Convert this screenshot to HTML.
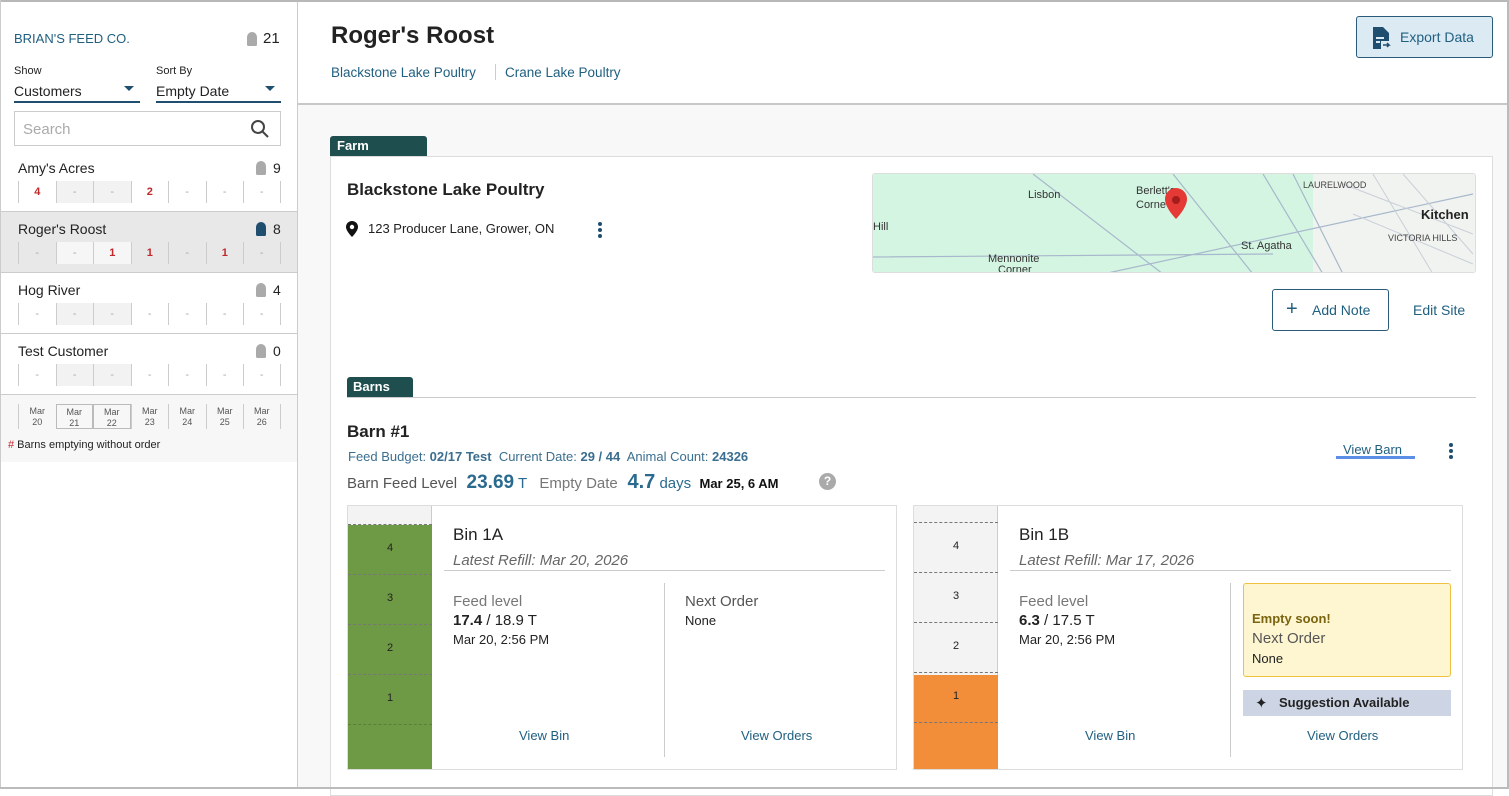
<!DOCTYPE html>
<html><head><style>
*{box-sizing:border-box;margin:0;padding:0}
body{width:1509px;height:789px;position:relative;overflow:hidden;font-family:"Liberation Sans",sans-serif;background:#fff;color:#222}
.a{position:absolute}
.teal{color:#1f5f80}
.cellrow{position:absolute;left:18px;height:22px;width:263px;display:flex}
.cellrow div{width:37.5px;border-left:1px solid #ccc;text-align:center;font-size:11px;line-height:22px;color:#aaa}
.cellrow div:last-child{border-right:1px solid #ccc}
.cellrow .r{color:#c0282b;font-weight:bold}
.sh{background:#f2f2f2}
.bin{position:absolute;border:1px solid #ddd;background:#fff;width:550px;height:265px}
.gauge{position:absolute;left:0;top:0;width:84px;height:263px;border-right:1px solid #ccc}
.seg{position:absolute;left:0;width:84px;font-size:11px;text-align:center;border-top:1px dashed #777}
.mi{position:absolute;width:12px;height:16px;background:#aaa;border-radius:6px 6px 2px 2px}
</style></head><body>
<!-- sidebar -->
<div class="a" style="left:297px;top:0;width:1px;height:789px;background:#ccc"></div>
<div class="a teal" style="left:14px;top:31px;font-size:13px">BRIAN'S FEED CO.</div>
<div class="mi" style="left:247px;top:32px;width:10px;height:14px"></div>
<div class="a" style="left:263px;top:30px;font-size:15px">21</div>
<div class="a" style="left:14px;top:65px;font-size:11px">Show</div>
<div class="a" style="left:156px;top:65px;font-size:11px">Sort By</div>
<div class="a" style="left:14px;top:83px;width:126px;font-size:14px;border-bottom:2px solid #1f4e6f;height:20px">Customers<span style="position:absolute;right:6px;top:3px;border:5px solid transparent;border-top-color:#1f4e6f"></span></div>
<div class="a" style="left:156px;top:83px;width:125px;font-size:14px;border-bottom:2px solid #1f4e6f;height:20px">Empty Date<span style="position:absolute;right:6px;top:3px;border:5px solid transparent;border-top-color:#1f4e6f"></span></div>
<div class="a" style="left:14px;top:111px;width:267px;height:35px;border:1px solid #ccc;font-size:15px;color:#aaa;padding:9px 8px">Search
<svg style="position:absolute;right:10px;top:7px" width="20" height="20"><circle cx="8" cy="8" r="6" stroke="#444" stroke-width="2" fill="none"/><line x1="12.5" y1="12.5" x2="18" y2="18" stroke="#444" stroke-width="2"/></svg></div>

<div class="a" style="left:1px;top:211px;width:296px;height:62px;background:#e8e8e8"></div>
<div class="a" style="left:1px;top:211px;width:296px;height:1px;background:#ccc"></div>
<div class="a" style="left:1px;top:272px;width:296px;height:1px;background:#ccc"></div>
<div class="a" style="left:1px;top:333px;width:296px;height:1px;background:#ccc"></div>
<div class="a" style="left:1px;top:394px;width:296px;height:68px;background:#f7f7f7;border-top:1px solid #ccc"></div>

<div class="a" style="left:18px;top:160px;font-size:14px">Amy's Acres</div><div class="mi" style="left:256px;top:161px;width:10px;height:14px"></div><div class="a" style="left:273px;top:160px;font-size:14px">9</div>
<div class="cellrow" style="top:181px"><div class="r">4</div><div class="sh">-</div><div class="sh">-</div><div class="r">2</div><div>-</div><div>-</div><div>-</div></div>
<div class="a" style="left:18px;top:221px;font-size:14px">Roger's Roost</div><div class="mi" style="left:256px;top:222px;width:10px;height:14px;background:#1f4e6f"></div><div class="a" style="left:273px;top:221px;font-size:14px">8</div>
<div class="cellrow" style="top:242px"><div>-</div><div style="background:#f6f6f6">-</div><div class="r" style="background:#f6f6f6">1</div><div class="r">1</div><div>-</div><div class="r">1</div><div>-</div></div>
<div class="a" style="left:18px;top:282px;font-size:14px">Hog River</div><div class="mi" style="left:256px;top:283px;width:10px;height:14px"></div><div class="a" style="left:273px;top:282px;font-size:14px">4</div>
<div class="cellrow" style="top:303px"><div>-</div><div class="sh">-</div><div class="sh">-</div><div>-</div><div>-</div><div>-</div><div>-</div></div>
<div class="a" style="left:18px;top:343px;font-size:14px">Test Customer</div><div class="mi" style="left:256px;top:344px;width:10px;height:14px"></div><div class="a" style="left:273px;top:343px;font-size:14px">0</div>
<div class="cellrow" style="top:364px"><div>-</div><div class="sh">-</div><div class="sh">-</div><div>-</div><div>-</div><div>-</div><div>-</div></div>
<div class="cellrow" style="top:404px;height:25px"><div style="font-size:9px;line-height:11px;color:#555;padding-top:2px">Mar<br>20</div><div style="font-size:9px;line-height:11px;color:#555;padding-top:2px;border:1px solid #bbb">Mar<br>21</div><div style="font-size:9px;line-height:11px;color:#555;padding-top:2px;border:1px solid #bbb">Mar<br>22</div><div style="font-size:9px;line-height:11px;color:#555;padding-top:2px">Mar<br>23</div><div style="font-size:9px;line-height:11px;color:#555;padding-top:2px">Mar<br>24</div><div style="font-size:9px;line-height:11px;color:#555;padding-top:2px">Mar<br>25</div><div style="font-size:9px;line-height:11px;color:#555;padding-top:2px">Mar<br>26</div></div>
<div class="a" style="left:8px;top:439px;font-size:11px"><span style="color:#c0282b">#</span> Barns emptying without order</div>

<!-- header -->
<div class="a" style="left:298px;top:103px;width:1209px;height:2px;background:#c8c8c8"></div>
<div class="a" style="left:298px;top:105px;width:1209px;height:682px;background:#f8f8f8"></div>
<div class="a" style="left:331px;top:22px;font-size:24px;font-weight:bold">Roger's Roost</div>
<div class="a teal" style="left:331px;top:65px;font-size:13.5px">Blackstone Lake Poultry</div>
<div class="a" style="left:495px;top:64px;width:1px;height:16px;background:#ccc"></div>
<div class="a teal" style="left:505px;top:65px;font-size:13.5px">Crane Lake Poultry</div>
<div class="a" style="left:1356px;top:16px;width:137px;height:42px;background:#dceaf3;border:1px solid #2a5c7a;border-radius:3px"></div>
<svg class="a" style="left:1372px;top:26px" width="20" height="24"><path d="M1 1h10l6 6v8H9v8H1z" fill="#1f4e6f"/><rect x="4" y="11" width="8" height="2" fill="#dceaf3"/><rect x="4" y="15" width="4" height="2" fill="#dceaf3"/><path d="M11 19h6l-2-2M17 19l-2 2" stroke="#1f4e6f" stroke-width="1.5" fill="none"/></svg>
<div class="a teal" style="left:1400px;top:29px;font-size:14px">Export Data</div>

<!-- farm card -->
<div class="a" style="left:330px;top:136px;width:97px;height:21px;background:#1f4e4f;border-radius:3px 3px 0 0;color:#fff;font-size:13px;font-weight:bold;padding:2px 7px">Farm</div>
<div class="a" style="left:330px;top:156px;width:1163px;height:640px;background:#fff;border:1px solid #ddd"></div>
<div class="a" style="left:347px;top:180px;font-size:17px;font-weight:bold">Blackstone Lake Poultry</div>
<svg class="a" style="left:346px;top:221px" width="12" height="16"><path d="M6 0a6 6 0 0 1 6 6c0 4-6 10-6 10S0 10 0 6a6 6 0 0 1 6-6z" fill="#111"/><circle cx="6" cy="6" r="2.2" fill="#fff"/></svg>
<div class="a" style="left:368px;top:221px;font-size:13px">123 Producer Lane, Grower, ON</div>
<svg class="a" style="left:597px;top:221px" width="6" height="18"><circle cx="3" cy="3" r="2" fill="#1f4e6f"/><circle cx="3" cy="9" r="2" fill="#1f4e6f"/><circle cx="3" cy="15" r="2" fill="#1f4e6f"/></svg>
<svg class="a" style="left:872px;top:173px;border:1px solid #ddd;border-radius:3px" width="604" height="100">
<rect width="604" height="100" fill="#d4f5e2"/>
<rect x="440" width="164" height="100" fill="#f1f3f0"/>
<path d="M390 0L450 100M160 0L290 100M300 0L380 100M0 83L400 80M230 100L600 20M420 0L470 100" stroke="#a8b8cc" stroke-width="1.2" fill="none"/>
<path d="M470 10L600 60M480 40L600 90M500 0L560 100M530 0L600 80" stroke="#c8cfd8" stroke-width="1" fill="none"/>
<text x="155" y="24" font-size="11" fill="#333" font-family="Liberation Sans">Lisbon</text>
<text x="263" y="20" font-size="11" fill="#333" font-family="Liberation Sans">Berlett's</text>
<text x="263" y="34" font-size="11" fill="#333" font-family="Liberation Sans">Corne</text>
<text x="0" y="56" font-size="11" fill="#333" font-family="Liberation Sans">Hill</text>
<text x="368" y="75" font-size="11" fill="#333" font-family="Liberation Sans">St. Agatha</text>
<text x="115" y="88" font-size="11" fill="#333" font-family="Liberation Sans">Mennonite</text>
<text x="125" y="99" font-size="11" fill="#333" font-family="Liberation Sans">Corner</text>
<text x="430" y="14" font-size="9" fill="#444" font-family="Liberation Sans">LAURELWOOD</text>
<text x="548" y="45" font-size="13" font-weight="bold" fill="#222" font-family="Liberation Sans">Kitchen</text>
<text x="515" y="67" font-size="9" fill="#444" font-family="Liberation Sans">VICTORIA HILLS</text>
<path d="M303 14a11 11 0 0 1 11 11c0 9-11 20-11 20s-11-11-11-20a11 11 0 0 1 11-11z" fill="#e53935"/><circle cx="303" cy="26" r="4" fill="#a51c1c"/>
</svg>
<div class="a" style="left:1272px;top:289px;width:117px;height:42px;border:1px solid #2a5c7a;border-radius:3px"></div>
<div class="a teal" style="left:1286px;top:299px;font-size:20px;line-height:20px">+</div>
<div class="a teal" style="left:1312px;top:302px;font-size:14px">Add Note</div>
<div class="a teal" style="left:1413px;top:302px;font-size:14px">Edit Site</div>

<!-- barns -->
<div class="a" style="left:347px;top:377px;width:66px;height:21px;background:#1f4e4f;border-radius:3px 3px 0 0;color:#fff;font-size:13px;font-weight:bold;padding:2px 6px">Barns</div>
<div class="a" style="left:347px;top:397px;width:1129px;height:1px;background:#ccc"></div>
<div class="a" style="left:347px;top:422px;font-size:17px;font-weight:bold">Barn #1</div>
<div class="a" style="left:348px;top:449px;font-size:13px;color:#3b6e8f">Feed Budget: <b>02/17 Test</b>&nbsp; Current Date: <b>29 / 44</b>&nbsp; Animal Count: <b>24326</b></div>
<div class="a" style="left:347px;top:471px;font-size:15px;color:#555;white-space:nowrap">Barn Feed Level <span style="color:#2a6a8f;font-size:19px;font-weight:bold">&nbsp;23.69</span><span style="color:#2a6a8f"> T</span> &nbsp;&nbsp;<span style="color:#777">Empty Date</span> <span style="color:#2a6a8f;font-size:20px;font-weight:bold">&nbsp;4.7</span><span style="color:#2a6a8f"> days</span> &nbsp;<span style="color:#111;font-size:13px;font-weight:bold">Mar 25, 6 AM</span></div>
<div class="a" style="left:819px;top:473px;width:17px;height:17px;border-radius:50%;background:#aaa;color:#fff;font-size:12px;font-weight:bold;text-align:center;line-height:17px">?</div>
<div class="a teal" style="left:1343px;top:442px;font-size:13px">View Barn</div>
<div class="a" style="left:1336px;top:456px;width:79px;height:3px;background:#5b8ee6"></div>
<svg class="a" style="left:1448px;top:442px" width="6" height="18"><circle cx="3" cy="3" r="2" fill="#1f4e6f"/><circle cx="3" cy="9" r="2" fill="#1f4e6f"/><circle cx="3" cy="15" r="2" fill="#1f4e6f"/></svg>

<!-- bin 1A -->
<div class="bin" style="left:347px;top:505px">
<div class="gauge" style="background:#f3f3f3">
<div class="a" style="left:0;top:19px;width:84px;height:244px;background:#6e9a45"></div>
<div class="seg" style="top:18px;height:50px;line-height:46px">4</div>
<div class="seg" style="top:68px;height:50px;line-height:46px">3</div>
<div class="seg" style="top:118px;height:50px;line-height:46px">2</div>
<div class="seg" style="top:168px;height:50px;line-height:46px">1</div>
<div class="seg" style="top:218px;height:45px;border-top-color:#5a8038"></div>
</div>
<div class="a" style="left:105px;top:19px;font-size:17px">Bin 1A</div>
<div class="a" style="left:105px;top:46px;font-size:15px;font-style:italic;color:#666">Latest Refill: Mar 20, 2026</div>
<div class="a" style="left:96px;top:64px;width:441px;height:1px;background:#ccc"></div>
<div class="a" style="left:316px;top:77px;width:1px;height:174px;background:#ccc"></div>
<div class="a" style="left:105px;top:87px;font-size:15px;color:#777">Feed level</div>
<div class="a" style="left:105px;top:106px;font-size:15px"><b>17.4</b> / 18.9 T</div>
<div class="a" style="left:105px;top:126px;font-size:13px">Mar 20, 2:56 PM</div>
<div class="a" style="left:337px;top:87px;font-size:15px;color:#555">Next Order</div>
<div class="a" style="left:337px;top:107px;font-size:13px">None</div>
<div class="a teal" style="left:171px;top:222px;font-size:13px">View Bin</div>
<div class="a teal" style="left:393px;top:222px;font-size:13px">View Orders</div>
</div>

<!-- bin 1B -->
<div class="bin" style="left:913px;top:505px">
<div class="gauge" style="background:#f3f3f3">
<div class="a" style="left:0;top:169px;width:84px;height:94px;background:#f28e3a"></div>
<div class="seg" style="top:16px;height:50px;line-height:46px">4</div>
<div class="seg" style="top:66px;height:50px;line-height:46px">3</div>
<div class="seg" style="top:116px;height:50px;line-height:46px">2</div>
<div class="seg" style="top:166px;height:50px;line-height:46px">1</div>
<div class="seg" style="top:216px;height:47px"></div>
</div>
<div class="a" style="left:105px;top:19px;font-size:17px">Bin 1B</div>
<div class="a" style="left:105px;top:46px;font-size:15px;font-style:italic;color:#666">Latest Refill: Mar 17, 2026</div>
<div class="a" style="left:96px;top:64px;width:441px;height:1px;background:#ccc"></div>
<div class="a" style="left:316px;top:77px;width:1px;height:174px;background:#ccc"></div>
<div class="a" style="left:105px;top:87px;font-size:15px;color:#777">Feed level</div>
<div class="a" style="left:105px;top:106px;font-size:15px"><b>6.3</b> / 17.5 T</div>
<div class="a" style="left:105px;top:126px;font-size:13px">Mar 20, 2:56 PM</div>
<div class="a" style="left:329px;top:77px;width:208px;height:94px;background:#fef6d0;border:1px solid #f0c040;border-radius:3px"></div>
<div class="a" style="left:338px;top:105px;font-size:13px;font-weight:bold;color:#7a6410">Empty soon!</div>
<div class="a" style="left:338px;top:124px;font-size:15px;color:#555">Next Order</div>
<div class="a" style="left:338px;top:145px;font-size:13px">None</div>
<div class="a" style="left:329px;top:184px;width:208px;height:26px;background:#cdd5e5"></div>
<div class="a" style="left:341px;top:188px;font-size:15px">✦</div>
<div class="a" style="left:365px;top:189px;font-size:13px;font-weight:bold">Suggestion Available</div>
<div class="a teal" style="left:171px;top:222px;font-size:13px">View Bin</div>
<div class="a teal" style="left:393px;top:222px;font-size:13px">View Orders</div>
</div>

<!-- page frame (on top) -->
<div class="a" style="left:0;top:0;width:1509px;height:2px;background:#b8b8b8"></div>
<div class="a" style="left:0;top:0;width:1px;height:789px;background:#ccc"></div>
<div class="a" style="left:1507px;top:0;width:2px;height:789px;background:#bbb"></div>
<div class="a" style="left:0;top:787px;width:1509px;height:2px;background:#bbb"></div>
</body></html>
